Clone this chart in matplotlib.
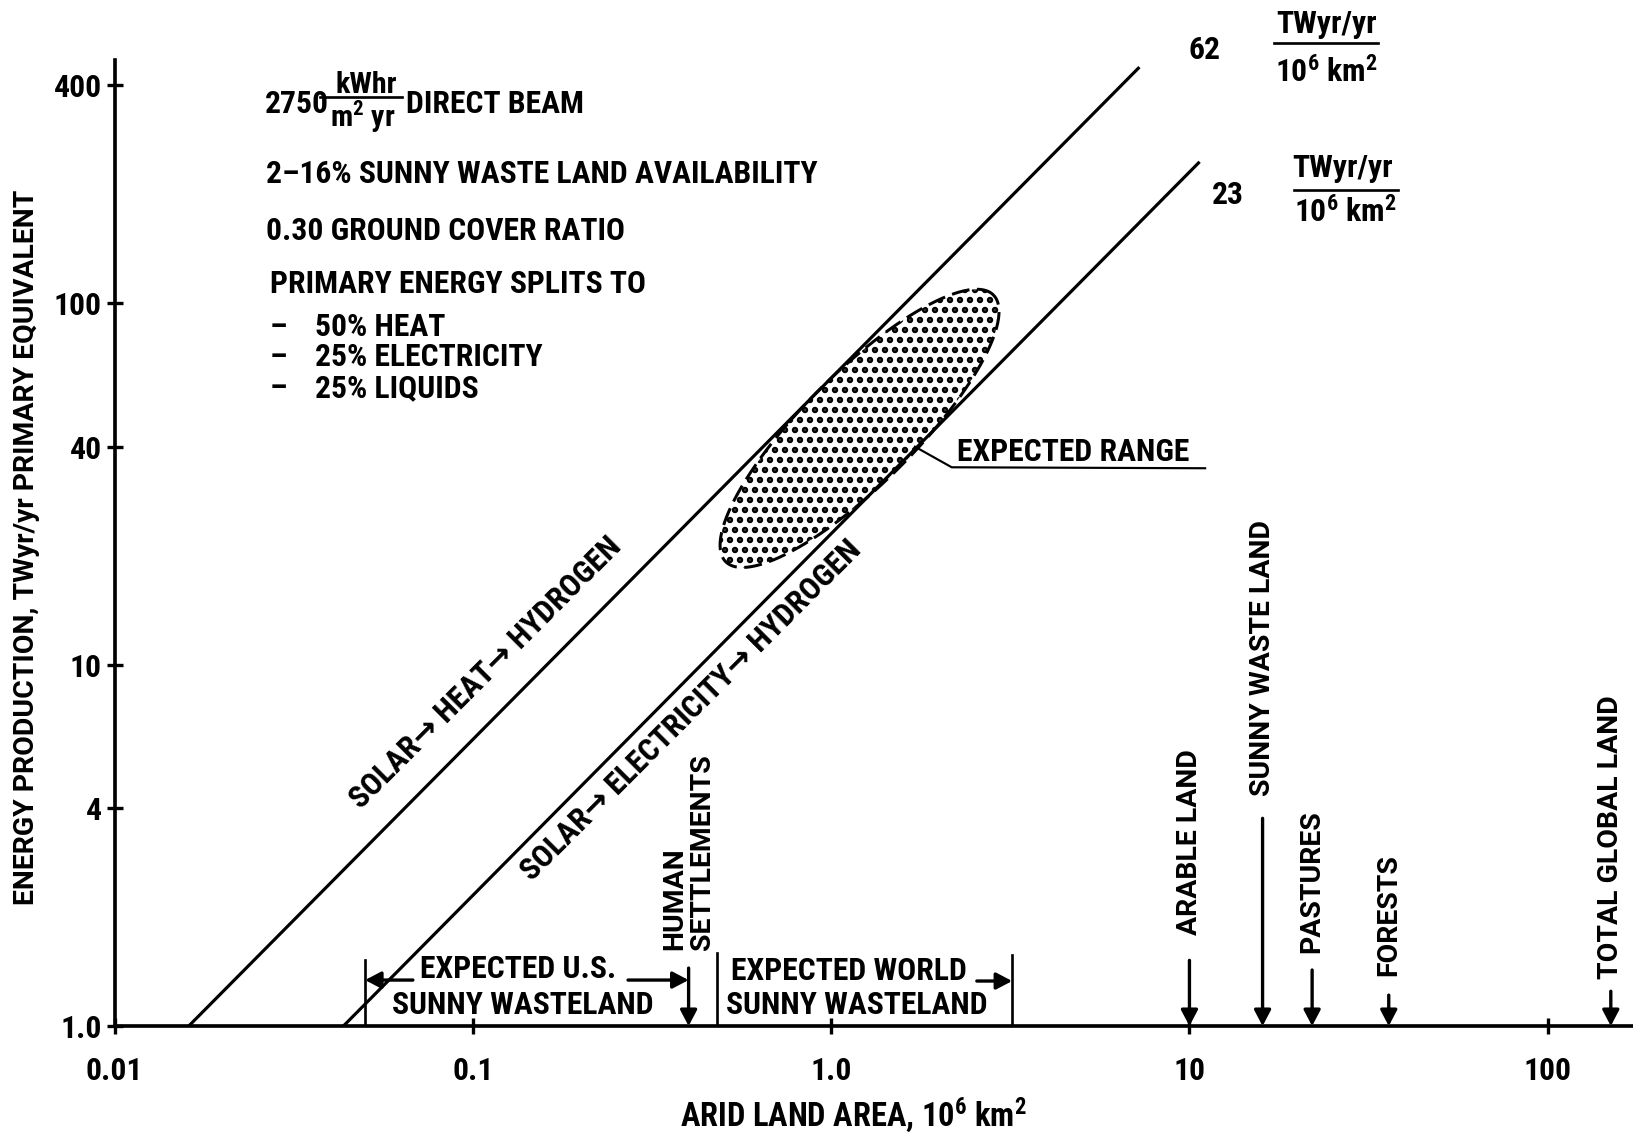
import numpy as np
import matplotlib
matplotlib.use("Agg")
import matplotlib.pyplot as plt
from matplotlib.patches import Polygon
from matplotlib.ticker import NullLocator

# ---- values ----
heat_area = [0.0161, 7.2]        # 10^6 km^2
heat_energy = [1.0, 446.0]       # TWyr/yr, 62 TWyr/yr per 10^6 km^2
elec_area = [0.0435, 10.6]
elec_energy = [1.0, 244.0]       # 23 TWyr/yr per 10^6 km^2
line_yields = ["62", "23"]

# expected range blob (log10 space)
range_center = (1.2, 45.0)
range_half_long = 0.525
range_half_short = 0.155
range_angle = 44.6

us_waste = [0.05, 0.40]
world_waste = [0.48, 3.2]

land_names = ["ARABLE LAND", "SUNNY WASTE LAND", "PASTURES", "FORESTS", "TOTAL GLOBAL LAND"]
land_area = [10, 16, 22, 36, 150]

x_ticks = [0.01, 0.1, 1.0, 10, 100]
x_ticklabels = ["0.01", "0.1", "1.0", "10", "100"]
y_ticks = [1, 4, 10, 40, 100, 400]
y_ticklabels = ["1.0", "4", "10", "40", "100", "400"]

notes = ["2\u201316% SUNNY WASTE LAND AVAILABILITY", "0.30 GROUND COVER RATIO",
         "PRIMARY ENERGY SPLITS TO"]
splits = ["50% HEAT", "25% ELECTRICITY", "25% LIQUIDS"]

# ---- fonts ----
NARROW = "Roboto Condensed"
WIDE = "Roboto"
plt.rcParams["font.family"] = [NARROW, "DejaVu Sans"]
plt.rcParams["font.weight"] = "bold"
plt.rcParams["mathtext.fontset"] = "custom"
plt.rcParams["mathtext.rm"] = NARROW + ":bold"
plt.rcParams["mathtext.default"] = "rm"
plt.rcParams["hatch.linewidth"] = 2.6

FS = 19
FS_WIDE = 17

fig = plt.figure(figsize=(1633 / 120, 1132 / 120), dpi=120)
ax = fig.add_axes([0.0702, 0.0936, 0.9298, 0.8534])
ax.set_xscale("log")
ax.set_yscale("log")
ax.set_xlim(0.01, 173)
ax.set_ylim(1, 470)

for s in ["top", "right"]:
    ax.spines[s].set_visible(False)
for s in ["left", "bottom"]:
    ax.spines[s].set_linewidth(2.2)

ax.set_xticks(x_ticks, x_ticklabels)
ax.set_yticks(y_ticks, y_ticklabels)
ax.xaxis.set_minor_locator(NullLocator())
ax.yaxis.set_minor_locator(NullLocator())
ax.tick_params(direction="inout", length=9.5, width=2.0, labelsize=FS)
ax.tick_params(axis="x", pad=13.5)
ax.tick_params(axis="y", pad=3)
for lab in ax.get_xticklabels() + ax.get_yticklabels():
    lab.set_fontweight("bold")

# production lines
ax.plot(heat_area, heat_energy, color="k", lw=1.9, zorder=3)
ax.plot(elec_area, elec_energy, color="k", lw=1.9, zorder=3)

# expected range (dotted ellipse in log space)
t = np.linspace(0, 2 * np.pi, 240)
cx, cy = np.log10(range_center[0]), np.log10(range_center[1])
ang = np.radians(range_angle)
lx = cx + range_half_long * np.cos(t) * np.cos(ang) - range_half_short * np.sin(t) * np.sin(ang)
ly = cy + range_half_long * np.cos(t) * np.sin(ang) + range_half_short * np.sin(t) * np.cos(ang)
blob = Polygon(np.column_stack([10 ** lx, 10 ** ly]), closed=True, facecolor="white",
               edgecolor="black", hatch="..", lw=0, zorder=2)
ax.add_patch(blob)
ax.plot(10 ** lx, 10 ** ly, color="k", lw=1.8, dashes=(6, 2.5), zorder=2)

ax.plot([0.5271, 0.5513, 0.7182], [0.5997, 0.5784, 0.5774], transform=ax.transAxes,
        color="k", lw=1.3)
ax.text(0.5546, 0.5945, "EXPECTED RANGE", transform=ax.transAxes, fontsize=FS,
        fontweight="bold", ha="left", va="center")

# line labels
ax.text(0.244, 0.3654, "SOLAR\u2192 HEAT\u2192 HYDROGEN", transform=ax.transAxes,
        fontsize=FS, fontweight="bold", rotation=45, rotation_mode="anchor",
        ha="center", va="center")
ax.text(0.3797, 0.3268, "SOLAR\u2192 ELECTRICITY\u2192 HYDROGEN", transform=ax.transAxes,
        fontsize=FS, fontweight="bold", rotation=45, rotation_mode="anchor",
        ha="center", va="center")

# yield labels, top right
kw = dict(transform=ax.transAxes, clip_on=False, fontsize=FS, fontweight="bold",
          ha="center", va="center")
ax.text(0.7175, 1.0104, line_yields[0], **kw)
ax.text(0.798, 1.037, "TWyr/yr", **kw)
ax.plot([0.7635, 0.832], [1.0176, 1.0176], transform=ax.transAxes, clip_on=False, color="k", lw=1.6)
ax.text(0.798, 0.987, "10$^6$ km$^2$", **kw)
ax.text(0.733, 0.860, line_yields[1], **kw)
ax.text(0.809, 0.888, "TWyr/yr", **kw)
ax.plot([0.777, 0.845], [0.8654, 0.8654], transform=ax.transAxes, color="k", lw=1.6)
ax.text(0.8104, 0.8427, "10$^6$ km$^2$", **kw)

# notes, top left
tk = dict(transform=ax.transAxes, fontsize=FS, fontweight="bold")
ax.text(0.0991, 0.9545, "2750", ha="left", va="center", **tk)
ax.text(0.1656, 0.9658, "kWhr", transform=ax.transAxes, fontsize=FS - 1, fontweight="bold",
        ha="center", va="baseline")
ax.plot([0.1352, 0.1893], [0.9617, 0.9617], transform=ax.transAxes, color="k", lw=1.6)
ax.text(0.1636, 0.9306, "m$^2$ yr", transform=ax.transAxes, fontsize=FS - 1, fontweight="bold",
        ha="center", va="baseline")
ax.text(0.192, 0.9545, "DIRECT BEAM", ha="left", va="center", **tk)
for txt, fx, fy in zip(notes, [0.0995, 0.1, 0.1023], [0.882, 0.823, 0.768]):
    ax.text(fx, fy, txt, ha="left", va="center", **tk)
for txt, fy in zip(splits, [0.7236, 0.6925, 0.660]):
    ax.text(0.1076, fy, "\u2013", ha="center", va="center", **tk)
    ax.text(0.1318, fy, txt, ha="left", va="center", **tk)

# bottom annotations (x in data, y in axes fraction)
trans = ax.get_xaxis_transform()
arrow = dict(arrowstyle="-|>,head_length=0.8,head_width=0.42", color="k", lw=2.0,
             shrinkA=0, shrinkB=0, mutation_scale=10)
ax.plot([us_waste[0]] * 2, [0, 0.068], transform=trans, color="k", lw=1.6)
ax.annotate("", xy=(us_waste[0], 0.0476), xytext=(0.068, 0.0476), xycoords=trans,
            textcoords=trans, arrowprops=arrow)
ax.annotate("", xy=(us_waste[1], 0.0476), xytext=(0.271, 0.0476), xycoords=trans,
            textcoords=trans, arrowprops=arrow)
ax.annotate("", xy=(us_waste[1], 0), xytext=(us_waste[1], 0.060), xycoords=trans,
            textcoords=trans, arrowprops=arrow)
ax.text(0.2657, 0.059, "EXPECTED U.S.", ha="center", va="center", **tk)
ax.text(0.269, 0.0217, "SUNNY WASTELAND", ha="center", va="center", **tk)
ax.text(us_waste[1], 0.079, "HUMAN\nSETTLEMENTS", transform=trans, fontsize=FS_WIDE,
        family=WIDE, fontweight="bold", rotation=90, ha="center", va="bottom",
        multialignment="left", linespacing=1.0)

ax.plot([world_waste[0]] * 2, [0, 0.0755], transform=trans, color="k", lw=1.6)
ax.plot([world_waste[1]] * 2, [0, 0.0735], transform=trans, color="k", lw=1.6)
ax.annotate("", xy=(world_waste[1], 0.0466), xytext=(2.55, 0.0466), xycoords=trans,
            textcoords=trans, arrowprops=arrow)
ax.text(0.4834, 0.0569, "EXPECTED WORLD", ha="center", va="center", **tk)
ax.text(0.489, 0.0217, "SUNNY WASTELAND", ha="center", va="center", **tk)

arrow_top = [0.068, 0.215, 0.058, 0.032, 0.036]
label_bottom = [0.094, 0.238, 0.0755, 0.052, 0.0487]
for name, area, top, lb in zip(land_names, land_area, arrow_top, label_bottom):
    ax.annotate("", xy=(area, 0), xytext=(area, top), xycoords=trans, textcoords=trans,
                arrowprops=arrow, annotation_clip=False)
    ax.text(area, lb, name, transform=trans, fontsize=FS_WIDE, family=WIDE,
            fontweight="bold", rotation=90, ha="center", va="bottom")

ax.set_xlabel("ARID LAND AREA, 10$^6$ km$^2$", fontsize=FS + 0.5, fontweight="bold", va="center")
ax.xaxis.set_label_coords(0.4863, -0.0921)
ax.set_ylabel("ENERGY PRODUCTION, TWyr/yr PRIMARY EQUIVALENT", fontsize=FS_WIDE,
              family=WIDE, fontweight="bold", va="center", ha="center")
ax.yaxis.set_label_coords(-0.058, 0.4959)

fig.savefig("out.png", dpi=120)
